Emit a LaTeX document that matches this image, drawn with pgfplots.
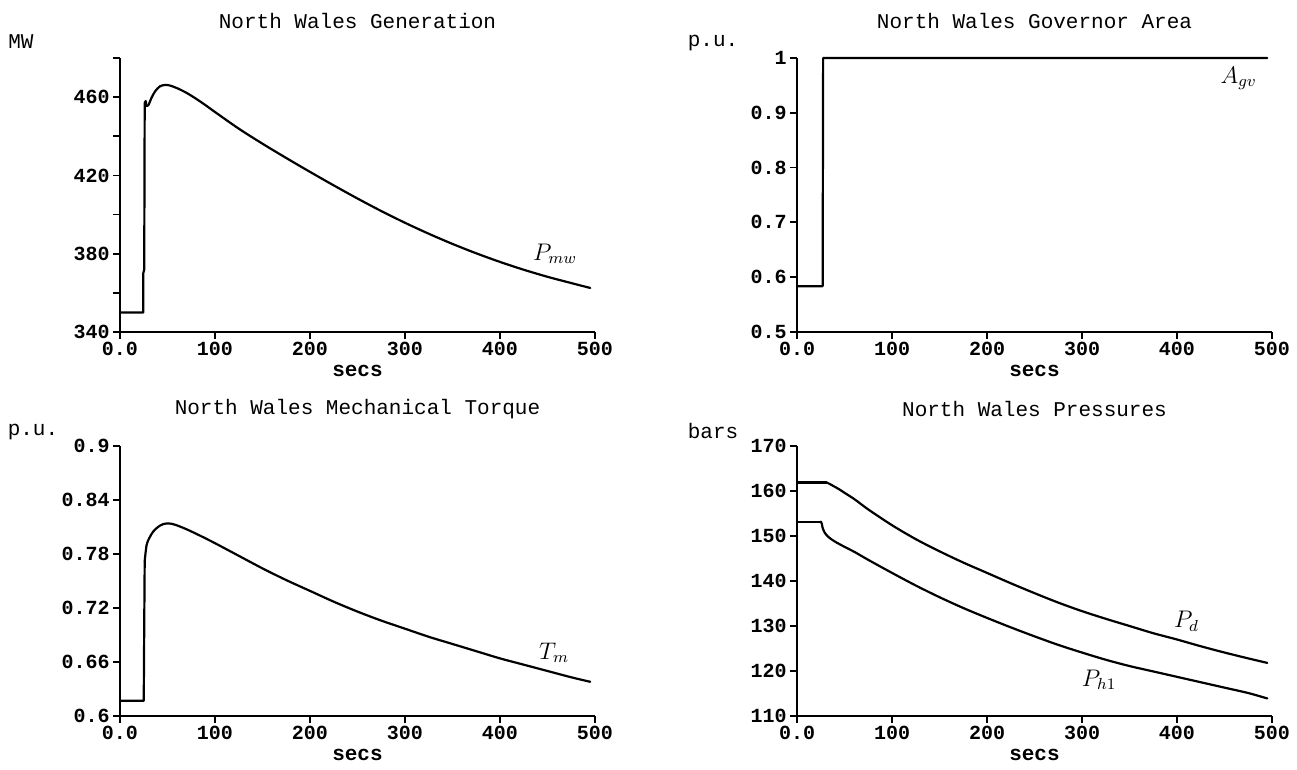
\documentclass[border=0pt]{standalone}
\usepackage{pgfplots}
\pgfplotsset{compat=1.18}
\usepackage{fontspec}
\setmonofont{Liberation Mono}
\begin{document}
\begin{tikzpicture}
\useasboundingbox (0,0) rectangle (648.5pt,385pt);
\tikzset{
  unit/.style={font=\ttfamily\fontsize{10.5}{12}\selectfont, anchor=center},
  clab/.style={font=\fontsize{12}{14}\selectfont, anchor=center},
  curve/.style={black, line width=1.1pt, line join=round, line cap=round},
}
\pgfplotsset{
  panel/.style={
    scale only axis, width=237.5pt,
    axis x line=bottom, axis y line=left,
    axis line style={-, line width=1pt},
    xmin=0, xmax=500,
    xtick={0,100,200,300,400,500},
    xticklabels={0.0,100,200,300,400,500},
    tick align=outside, major tick length=3.5pt, minor tick length=3.5pt,
    every tick/.style={black, line width=0.9pt},
    tick label style={font=\ttfamily\bfseries\fontsize{10}{12}\selectfont},
    yticklabel style={inner sep=1.5pt},
    xticklabel style={inner sep=1.5pt},
    xlabel={secs},
    xlabel style={font=\ttfamily\bfseries\fontsize{10.5}{12}\selectfont, at={(axis description cs:0.5,0)}, anchor=center, yshift=-19.5pt},
    title style={font=\ttfamily\fontsize{10.5}{12}\selectfont, at={(axis description cs:0.5,1)}, anchor=center, yshift=12.5pt},
    clip=false,
  },
}
% Top-left
\begin{axis}[panel, at={(60pt,219pt)}, height=137pt,
  ymin=340, ymax=480, ytick={340,380,420,460}, yticklabels={340,380,420,460},
  minor ytick={360,400,440,480}, title={North Wales Generation}]
\addplot[curve] coordinates {(0,350) (24.5,350) (24.5,370) (25.5,372) (26,457) (27,458) (28,455.5)};
\addplot[curve, smooth, tension=0.5] coordinates {(28,455.5) (30,456) (33,459.5) (37,463) (42,465.5) (47,466.2) (52,466) (60,464.6) (70,462.2) (80,459.2) (90,455.9) (100,452.4) (125,443.9) (150,436.2) (175,428.9) (200,421.8) (225,414.9) (250,408.2) (275,401.8) (300,395.8) (325,390.2) (350,385) (375,380.2) (400,375.8) (425,371.8) (450,368.2) (475,365) (495,362.5)};
\node[clab] at (axis cs:458,380) {$P_{mw}$};
\node[unit, xshift=-49.5pt, yshift=8pt] at (rel axis cs:0,1) {MW};
\end{axis}
% Top-right
\begin{axis}[panel, at={(398.5pt,219pt)}, height=137pt,
  ymin=0.5, ymax=1, ytick={0.5,0.6,0.7,0.8,0.9,1}, yticklabels={0.5,0.6,0.7,0.8,0.9,1},
  title={North Wales Governor Area}]
\addplot[curve] coordinates {(0,0.5835) (27,0.5835) (27.5,1.0) (495,1.0)};
\node[clab] at (axis cs:465,0.963) {$A_{gv}$};
\node[unit, xshift=-42pt, yshift=7.5pt] at (rel axis cs:0,1) {p.u.};
\end{axis}
% Bottom-left
\begin{axis}[panel, at={(60pt,27pt)}, height=135pt,
  ymin=0.6, ymax=0.9, ytick={0.6,0.66,0.72,0.78,0.84,0.9}, yticklabels={0.6,0.66,0.72,0.78,0.84,0.9},
  title={North Wales Mechanical Torque}]
\addplot[curve] coordinates {(0,0.617) (25,0.617) (25.5,0.70) (26,0.772)};
\addplot[curve, smooth, tension=0.5] coordinates {(26,0.772) (28,0.790) (31,0.798) (35,0.805) (40,0.810) (45,0.813) (51,0.814) (58,0.8125) (70,0.8075) (85,0.800) (100,0.792) (125,0.778) (150,0.764) (175,0.751) (200,0.739) (225,0.727) (250,0.716) (275,0.706) (300,0.697) (325,0.688) (350,0.680) (375,0.672) (400,0.664) (425,0.657) (450,0.650) (475,0.643) (495,0.638)};
\node[clab] at (axis cs:457,0.670) {$T_m$};
\node[unit, xshift=-43.5pt, yshift=7pt] at (rel axis cs:0,1) {p.u.};
\end{axis}
% Bottom-right
\begin{axis}[panel, at={(398.5pt,27pt)}, height=135pt,
  ymin=110, ymax=170, ytick={110,120,130,140,150,160,170}, yticklabels={110,120,130,140,150,160,170},
  title={North Wales Pressures}]
\addplot[curve] coordinates {(0,161.9) (31,161.9)};
\addplot[curve, smooth, tension=0.5] coordinates {(31,161.9) (35,161.5) (45,160.3) (50,159.6) (61,158.1) (75,155.9) (100,152.4) (125,149.3) (150,146.6) (175,144.1) (200,141.8) (225,139.5) (250,137.3) (275,135.2) (300,133.3) (325,131.6) (350,130.0) (375,128.4) (400,127.0) (425,125.5) (450,124.1) (475,122.8) (495,121.8)};
\addplot[curve] coordinates {(0,153.2) (25,153.2)};
\addplot[curve, smooth, tension=0.5] coordinates {(25,153.2) (26,152.8) (27,151.8) (29,150.8) (32,150.0) (36,149.3) (42,148.5) (50,147.6) (61,146.4) (75,144.7) (100,141.8) (125,139.0) (150,136.4) (175,134.0) (200,131.8) (225,129.7) (250,127.7) (275,125.8) (300,124.1) (325,122.5) (350,121.1) (375,119.9) (400,118.7) (425,117.5) (450,116.3) (475,115.1) (495,113.9)};
\node[clab] at (axis cs:410,131) {$P_d$};
\node[clab] at (axis cs:318,118) {$P_{h1}$};
\node[unit, xshift=-42pt, yshift=7.5pt] at (rel axis cs:0,1) {bars};
\end{axis}
\end{tikzpicture}
\end{document}
